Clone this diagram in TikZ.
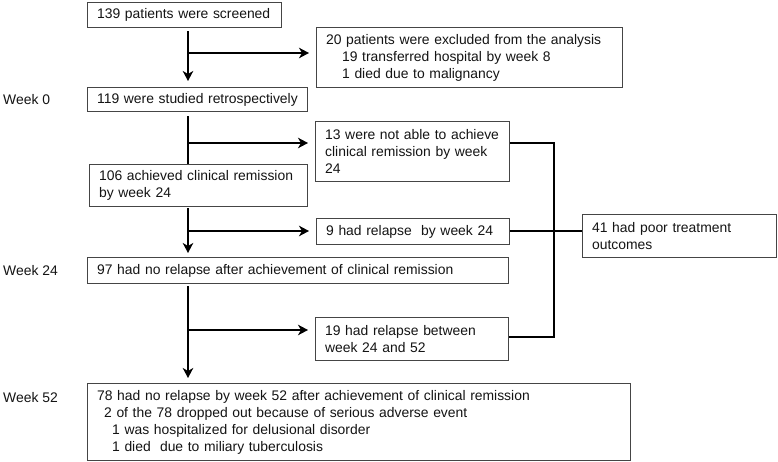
\documentclass[tikz,border=0pt]{standalone}
\usepackage{fontspec}
\setmainfont{Liberation Sans}
\usetikzlibrary{arrows.meta}
\definecolor{boxgray}{HTML}{454545}
\definecolor{txt}{HTML}{141414}
\begin{document}
\begin{tikzpicture}[x=1pt,y=-1pt,
  box/.style={draw=boxgray, line width=1.3pt, anchor=north west, inner xsep=9.5pt, inner ysep=1pt,
    align=left, text=txt, font=\fontsize{13.9}{17}\selectfont},
  lbl/.style={anchor=west, inner sep=0pt, text=txt, font=\fontsize{13.9}{17}\selectfont},
  conn/.style={line width=2.7pt, line cap=butt},
  arr/.style={conn, -{Stealth[length=10pt,width=10.5pt,inset=3pt]}}]
\useasboundingbox (0,0) rectangle (778,462);
\fill[white] (0,0) rectangle (778,462);
\newcommand{\ind}{\hspace*{16pt}}

\node[box, text width=175pt, minimum height=25pt] (A) at (87,2) {139 patients were screened};
\node[box, text width=287pt, minimum height=60pt] (B) at (316,27)
  {20 patients were excluded from the analysis\\\ind 19 transferred hospital by week 8\\\ind 1 died due to malignancy};
\node[box, text width=201pt, minimum height=24pt] (C) at (87,87) {119 were studied retrospectively};
\node[box, text width=175pt, minimum height=60pt] (D) at (315,121)
  {13 were not able to achieve\\clinical remission by week\\24};
\node[box, text width=199pt, minimum height=42pt] (E) at (89,164)
  {106 achieved clinical remission\\by week 24};
\node[box, text width=174pt, minimum height=26pt] (F) at (316,218) {9 had relapse\ \ by week 24};
\node[box, text width=175pt, minimum height=43pt] (G) at (582,214)
  {41 had poor treatment\\outcomes};
\node[box, text width=402pt, minimum height=26pt] (H) at (87,257)
  {97 had no relapse after achievement of clinical remission};
\node[box, text width=174pt, minimum height=43pt] (I) at (315,317)
  {19 had relapse between\\week 24 and 52};
\node[box, text width=524pt, minimum height=77pt] (J) at (87,383)
  {78 had no relapse by week 52 after achievement of clinical remission\\
   \hspace*{7pt}2 of the 78 dropped out because of serious adverse event\\
   \hspace*{15pt}1 was hospitalized for delusional disorder\\
   \hspace*{15pt}1 died\ \ due to miliary tuberculosis};

\node[lbl] (w0) at (3,100) {Week 0};
\node[lbl] (w24) at (3,271) {Week 24};
\node[lbl] (w52) at (3,398) {Week 52};

\coordinate (t) at (188,0);
\coordinate (bx) at (554,0);

% main trunk
\draw[arr, shorten <=3pt, shorten >=6pt] (A.south -| t) -- (C.north -| t);
\draw[arr, shorten >=7pt] (188,53) -- (B.west |- 0,53);
\draw[conn, shorten <=4pt] (C.south -| t) -- (E.north -| t);
\draw[arr, shorten >=7pt] (188,143) -- (D.west |- 0,143);
\draw[arr, shorten <=1pt, shorten >=4pt] (E.south -| t) -- (H.north -| t);
\draw[arr, shorten >=7pt] (188,231) -- (F.west |- 0,231);
\draw[arr, shorten <=2pt, shorten >=5pt] (H.south -| t) -- (J.north -| t);
\draw[arr, shorten >=7pt] (188,330) -- (I.west |- 0,330);

% bracket
\draw[conn, line join=miter] (D.east |- 0,143) -- (bx |- 0,143) -- (bx |- 0,337) -- (I.east |- 0,337);
\draw[conn] (F.east |- 0,231) -- (G.west |- 0,231);
\end{tikzpicture}
\end{document}
